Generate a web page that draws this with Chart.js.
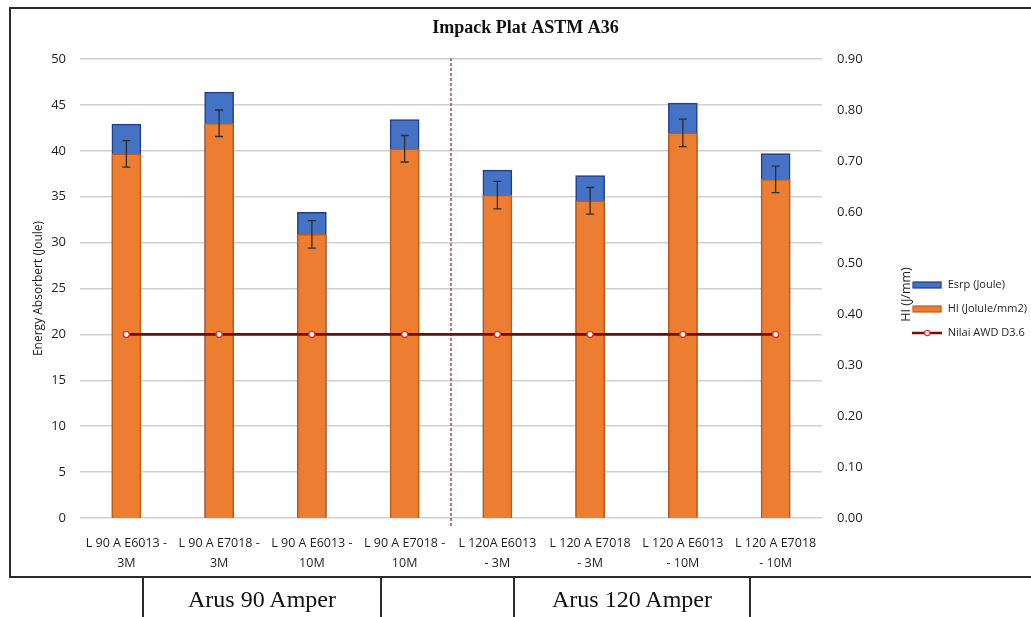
<!DOCTYPE html>
<html>
<head>
<meta charset="utf-8">
<title>Impack Plat ASTM A36</title>
<script src="https://cdn.jsdelivr.net/npm/chart.js@4.4.1/dist/chart.umd.min.js"></script>
<style>
  body { margin:0; background:#fff; width:1031px; height:617px; overflow:hidden; position:relative; }
  .frame { position:absolute; left:9px; top:7px; width:1040px; height:571px; border:2px solid #2b2b2b; box-sizing:border-box; }
  .chart-box { position:absolute; left:0; top:0; width:1031px; height:578px; }
  .vline { position:absolute; top:577px; height:40px; width:2px; background:#2b2b2b; }
  .group { position:absolute; top:581px; height:36px; line-height:36px; text-align:center;
           font-family:'Liberation Serif', 'Times New Roman', serif; font-size:24px; color:#111; }
</style>
</head>
<body>
<div class="frame"></div>
<div class="chart-box"><canvas id="impactChart" width="1031" height="578"></canvas></div>
<div class="vline" style="left:142px"></div>
<div class="vline" style="left:380px"></div>
<div class="vline" style="left:513px"></div>
<div class="vline" style="left:749px"></div>
<div class="group" style="left:144px;width:236px">Arus 90 Amper</div>
<div class="group" style="left:515px;width:234px">Arus 120 Amper</div>

<script>
// --- data ---
const categories = [
  ['L 90 A E6013 -', '3M'],
  ['L 90 A E7018 -', '3M'],
  ['L 90 A E6013 -', '10M'],
  ['L 90 A E7018 -', '10M'],
  ['L 120A E6013', '- 3M'],
  ['L 120 A E7018', '- 3M'],
  ['L 120 A E6013', '- 10M'],
  ['L 120 A E7018', '- 10M'],
];
const esrpValues = [42.9, 46.4, 33.3, 43.4, 37.9, 37.3, 45.2, 39.7];          // Joule, left axis
const hiValues   = [0.714, 0.774, 0.556, 0.724, 0.633, 0.622, 0.755, 0.664];  // J/mm2, right axis
const hiErrors   = [0.026, 0.026, 0.027, 0.026, 0.027, 0.026, 0.027, 0.026];
const awdValues  = [20, 20, 20, 20, 20, 20, 20, 20];                          // Joule, left axis
const energyMax = 50, energyStep = 5;
const hiMax = 0.9, hiStep = 0.1;
const dividerAfter = 3;   // dashed separator between 90 A and 120 A groups
const hiAxisTitle = 'HI (J/mm)';

const BLUE = '#4472C4', BLUE_EDGE = '#1F3D8C';
const ORANGE = '#ED7D31', ORANGE_EDGE = '#C55A11';
const AWD = '#7A0A0A', AWD_POINT = '#E23232';
const FONT = "'Open Sans', sans-serif";
const TEXT = '#1e1e1e';

function legendSwatch(kind, fill, stroke) {
  const c = document.createElement('canvas');
  c.width = 30; c.height = 10;
  const g = c.getContext('2d');
  if (kind === 'line') {
    g.strokeStyle = fill; g.lineWidth = 2.5;
    g.beginPath(); g.moveTo(0, 5); g.lineTo(30, 5); g.stroke();
    g.beginPath(); g.arc(15, 5, 2.6, 0, Math.PI * 2);
    g.fillStyle = '#fff'; g.fill();
    g.strokeStyle = stroke; g.lineWidth = 1.3; g.stroke();
  } else {
    g.fillStyle = fill; g.fillRect(1, 2, 28, 6);
    g.strokeStyle = stroke; g.lineWidth = 1.2; g.strokeRect(1, 2, 28, 6);
  }
  return c;
}
const legendIcons = [
  legendSwatch('bar', BLUE, BLUE_EDGE),
  legendSwatch('bar', ORANGE, ORANGE_EDGE),
  legendSwatch('line', AWD, AWD_POINT),
];

// error bars on the HI bars
const errorBars = {
  id: 'errorBars',
  afterDatasetsDraw(chart) {
    const meta = chart.getDatasetMeta(1);
    const y1 = chart.scales.y1;
    const ctx = chart.ctx;
    ctx.save();
    ctx.strokeStyle = '#2e2e2e';
    ctx.lineWidth = 1.3;
    meta.data.forEach((bar, i) => {
      const top = y1.getPixelForValue(hiValues[i] + hiErrors[i]);
      const bot = y1.getPixelForValue(hiValues[i] - hiErrors[i]);
      ctx.beginPath();
      ctx.moveTo(bar.x, top); ctx.lineTo(bar.x, bot);
      ctx.moveTo(bar.x - 4, top); ctx.lineTo(bar.x + 4, top);
      ctx.moveTo(bar.x - 4, bot); ctx.lineTo(bar.x + 4, bot);
      ctx.stroke();
    });
    ctx.restore();
  }
};

// dashed group separator
const groupDivider = {
  id: 'groupDivider',
  beforeDatasetsDraw(chart) {
    const x = chart.scales.x;
    const px = (x.getPixelForValue(dividerAfter) + x.getPixelForValue(dividerAfter + 1)) / 2;
    const ctx = chart.ctx;
    ctx.save();
    ctx.strokeStyle = '#A04C4C';
    ctx.lineWidth = 1.5;
    ctx.setLineDash([3, 2]);
    ctx.beginPath();
    ctx.moveTo(px, chart.chartArea.top - 1);
    ctx.lineTo(px, chart.chartArea.bottom + 8);
    ctx.stroke();
    ctx.restore();
  }
};

// secondary axis title, rotated like the primary one (bottom to top)
const rightAxisTitle = {
  id: 'rightAxisTitle',
  afterDraw(chart) {
    const y1 = chart.scales.y1;
    const area = chart.chartArea;
    const ctx = chart.ctx;
    ctx.save();
    ctx.translate(y1.right + 7, (area.top + area.bottom) / 2 + 6);
    ctx.rotate(-Math.PI / 2);
    ctx.font = "12.5px " + FONT;
    ctx.fillStyle = TEXT;
    ctx.textAlign = 'center';
    ctx.textBaseline = 'middle';
    ctx.fillText(hiAxisTitle, 0, 0);
    ctx.restore();
  }
};

new Chart(document.getElementById('impactChart'), {
  type: 'bar',
  data: {
    labels: categories,
    datasets: [
      {
        label: 'Esrp (Joule)',
        data: esrpValues,
        yAxisID: 'y',
        backgroundColor: BLUE,
        borderColor: BLUE_EDGE,
        borderWidth: 1.5,
        barThickness: 29,
        grouped: false,
        order: 2,
      },
      {
        label: 'HI (Jolule/mm2)',
        data: hiValues,
        yAxisID: 'y1',
        backgroundColor: ORANGE,
        borderColor: ORANGE_EDGE,
        borderWidth: 1.5,
        barThickness: 29,
        grouped: false,
        order: 1,
      },
      {
        type: 'line',
        label: 'Nilai AWD D3.6',
        data: awdValues,
        yAxisID: 'y',
        borderColor: AWD,
        borderWidth: 2.8,
        pointRadius: 3,
        pointBackgroundColor: '#fff',
        pointBorderColor: AWD_POINT,
        pointBorderWidth: 1.4,
        fill: false,
        order: 0,
      },
    ],
  },
  options: {
    responsive: false,
    animation: false,
    layout: { padding: { left: 14, right: -6, top: 0, bottom: 0 } },
    plugins: {
      title: {
        display: true,
        text: 'Impack Plat ASTM A36',
        color: '#111',
        font: { family: "'Liberation Serif', serif", size: 18, weight: 'bold' },
        padding: { top: 18, bottom: 19.4 },
      },
      legend: {
        position: 'right',
        title: { display: true, text: '', font: { size: 10 }, padding: { top: 28, bottom: 0 } },
        labels: {
          usePointStyle: true,
          pointStyleWidth: 30,
          padding: 13,
          color: TEXT,
          font: { family: FONT, size: 11 },
          sort: (a, b) => a.datasetIndex - b.datasetIndex,
          generateLabels(chart) {
            const items = Chart.defaults.plugins.legend.labels.generateLabels(chart);
            items.forEach(it => { it.pointStyle = legendIcons[it.datasetIndex]; });
            return items;
          },
        },
      },
      tooltip: { enabled: false },
    },
    scales: {
      x: {
        grid: { display: false },
        border: { display: false },
        ticks: {
          autoSkip: false, maxRotation: 0, minRotation: 0, padding: 7,
          color: TEXT, font: { family: FONT, size: 12.5, lineHeight: 1.6 },
        },
        afterFit(scale) { scale.height = 60; },
      },
      y: {
        position: 'left',
        min: 0, max: energyMax,
        ticks: { stepSize: energyStep, padding: 14, color: TEXT, font: { family: FONT, size: 13 } },
        grid: { color: '#d0d0d0', lineWidth: 1.5, drawTicks: false },
        border: { display: false },
        title: {
          display: true, text: 'Energy Absorbert (Joule)', color: TEXT,
          font: { family: FONT, size: 12 }, padding: { top: 17, bottom: 0 },
        },
        afterFit(scale) { scale.width = 66; },
      },
      y1: {
        position: 'right',
        min: 0, max: hiMax,
        ticks: {
          stepSize: hiStep, padding: 15, color: TEXT, font: { family: FONT, size: 13 },
          callback: v => v.toFixed(2),
        },
        grid: { display: false, drawTicks: false },
        border: { display: false },
        afterFit(scale) {
          const lg = scale.chart.legend;
          scale.width = scale.chart.width + 6 - (lg ? lg.width : 138) - 822;
        },
      },
    },
  },
  plugins: [groupDivider, errorBars, rightAxisTitle],
});
</script>
</body>
</html>
